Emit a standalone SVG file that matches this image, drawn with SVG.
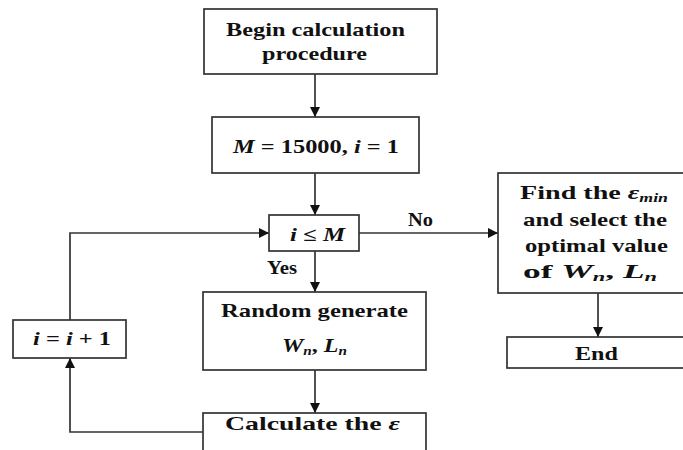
<svg xmlns="http://www.w3.org/2000/svg" width="683" height="450" viewBox="0 0 683 450" font-family="'Liberation Serif', 'Times New Roman', 'DejaVu Serif', serif">
<defs>
<marker id="ah" viewBox="0 0 10 10" refX="10" refY="5" markerWidth="10" markerHeight="10" markerUnits="userSpaceOnUse" orient="auto">
<path d="M0,0 L10,5 L0,10 z" fill="#111"/>
</marker>
<style>
.box{fill:#fff;stroke:#333;stroke-width:1.7}
.ln{fill:none;stroke:#333;stroke-width:1.7}
text{font-family:'Liberation Serif','Times New Roman','DejaVu Serif',serif;font-weight:bold;font-size:19px;fill:#111}
.m{font-style:italic}
.s{font-size:12px;font-style:italic}
</style>
</defs>
<rect width="683" height="450" fill="#fff"/>
<g id="connectors">
<line class="ln" x1="315" y1="74" x2="315" y2="117" marker-end="url(#ah)"/>
<line class="ln" x1="315" y1="173" x2="315" y2="215" marker-end="url(#ah)"/>
<line class="ln" x1="315" y1="251" x2="315" y2="292" marker-end="url(#ah)"/>
<line class="ln" x1="315" y1="370" x2="315" y2="413" marker-end="url(#ah)"/>
<polyline class="ln" points="203,432 70,432 70,358" marker-end="url(#ah)"/>
<polyline class="ln" points="70,320 70,233 269,233" marker-end="url(#ah)"/>
<line class="ln" x1="359" y1="233" x2="498" y2="233" marker-end="url(#ah)"/>
<line class="ln" x1="598" y1="293" x2="598" y2="337" marker-end="url(#ah)"/>
<text x="408" y="226" textLength="25" lengthAdjust="spacingAndGlyphs">No</text>
<text x="267" y="274" textLength="30" lengthAdjust="spacingAndGlyphs">Yes</text>
</g>
<g id="begin">
<rect class="box" x="204" y="9" width="233" height="65"/>
<text x="226" y="36" textLength="179" lengthAdjust="spacingAndGlyphs">Begin calculation</text>
<text x="262" y="60" textLength="105" lengthAdjust="spacingAndGlyphs">procedure</text>
</g>
<g id="init">
<rect class="box" x="212" y="117" width="207" height="56"/>
<text x="233" y="153" textLength="166" lengthAdjust="spacingAndGlyphs"><tspan class="m">M</tspan> = 15000, <tspan class="m">i</tspan> = 1</text>
</g>
<g id="cond">
<rect class="box" x="269" y="215" width="90" height="36"/>
<text x="290" y="241" textLength="55" lengthAdjust="spacingAndGlyphs"><tspan class="m">i</tspan> ≤ <tspan class="m">M</tspan></text>
</g>
<g id="random">
<rect class="box" x="203" y="292" width="223" height="78"/>
<text x="221" y="317" textLength="187" lengthAdjust="spacingAndGlyphs">Random generate</text>
<text x="282" y="352" textLength="65" lengthAdjust="spacingAndGlyphs"><tspan class="m">W</tspan><tspan class="s" dy="3">n</tspan><tspan dy="-3">, </tspan><tspan class="m">L</tspan><tspan class="s" dy="3">n</tspan></text>
</g>
<g id="calc">
<rect class="box" x="203" y="413" width="223" height="50"/>
<text x="225" y="430" textLength="175" lengthAdjust="spacingAndGlyphs">Calculate the  <tspan class="m">ε</tspan></text>
</g>
<g id="incr">
<rect class="box" x="13" y="320" width="113" height="38"/>
<text x="33" y="345" textLength="78" lengthAdjust="spacingAndGlyphs"><tspan class="m">i</tspan> = <tspan class="m">i</tspan> + 1</text>
</g>
<g id="find">
<rect class="box" x="498" y="173" width="194" height="120"/>
<text x="520" y="199" textLength="148" lengthAdjust="spacingAndGlyphs">Find the  <tspan class="m">ε</tspan><tspan class="s" dy="3">min</tspan></text>
<text x="523" y="226" textLength="144" lengthAdjust="spacingAndGlyphs">and select the</text>
<text x="525" y="252" textLength="143" lengthAdjust="spacingAndGlyphs">optimal value</text>
<text x="523" y="278" textLength="134" lengthAdjust="spacingAndGlyphs">of  <tspan class="m">W</tspan><tspan class="s" dy="3">n</tspan><tspan dy="-3">, </tspan><tspan class="m">L</tspan><tspan class="s" dy="3">n</tspan></text>
</g>
<g id="end">
<rect class="box" x="507" y="337" width="185" height="31"/>
<text x="575" y="360" textLength="43" lengthAdjust="spacingAndGlyphs">End</text>
</g>
</svg>
